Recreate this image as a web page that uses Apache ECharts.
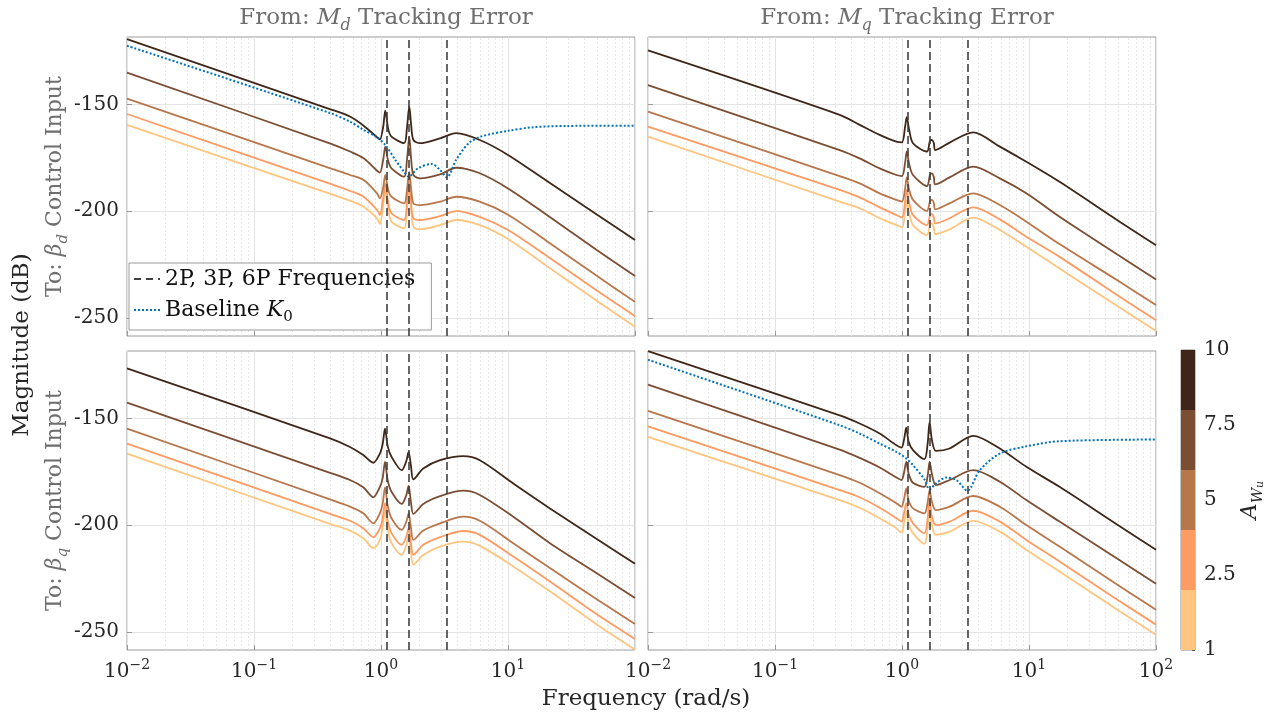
<!DOCTYPE html>
<html>
<head>
<meta charset="utf-8">
<script src="https://cdn.jsdelivr.net/npm/echarts@6/dist/echarts.min.js"></script>
<style>html,body{margin:0;background:#fff}#main{width:1284px;height:720px}</style>
</head>
<body>
<div id="main"></div>
<script>
// weighting amplitudes A_Wu and their colours (dark = 10 ... light = 1)
var levels = [10, 7.5, 5, 2.5, 1];
var levelColors = ['#3e2718', '#7b4e33', '#b8764b', '#fe9b62', '#fec57f'];
var cbLabels = ['1', '2.5', '5', '7.5', '10'];
var xTickExp = ['\u22122', '\u22121', '0', '1', '2'];
var yTicks = [-250, -200, -150];
// 2P, 3P, 6P frequencies (rad/s)
var harmonics = [1.1, 1.65, 3.3];

// top-left: from Md to beta_d
var freqTL = [0.01, 0.4, 0.57, 0.73, 0.93, 0.98, 1.04, 1.08, 1.14, 1.21, 1.52, 1.6, 1.67, 1.73, 1.8, 2.03, 2.92, 3.9, 6.0, 10, 20, 50, 100];
var tl10 = [-119.3, -152.2, -155.6, -159.9, -165.3, -166.3, -160.5, -152.8, -161.5, -165.0, -168.1, -161.0, -150.9, -160.0, -166.6, -168.1, -165.8, -163.4, -166.6, -173.6, -185.6, -201.5, -213.5];
var tl75 = [-135.0, -168.3, -172.0, -175.2, -181.0, -181.9, -176.0, -169.7, -176.5, -179.9, -183.8, -176.0, -165.3, -176.0, -183.0, -184.6, -182.7, -179.6, -182.2, -189.3, -201.5, -218.2, -230.4];
var tl5 = [-147.2, -179.9, -183.0, -185.4, -191.6, -193.9, -189.0, -183.0, -190.0, -193.2, -196.3, -190.0, -181.5, -190.0, -196.3, -197.1, -195.5, -193.2, -195.5, -201.6, -213.8, -230.3, -242.5];
var tl25 = [-154.4, -187.2, -190.5, -193.2, -199.4, -201.8, -194.0, -186.9, -196.0, -201.0, -204.1, -196.0, -185.4, -197.0, -203.3, -204.1, -202.3, -199.9, -202.6, -208.8, -220.8, -237.2, -249.2];
var tl1 = [-159.5, -191.9, -195.0, -197.9, -203.3, -206.0, -197.0, -190.0, -199.0, -204.9, -208.0, -199.0, -188.5, -199.0, -207.3, -208.4, -206.5, -204.1, -206.5, -213.0, -225.5, -242.0, -254.2];
var freqTLBase = [0.01, 0.4, 0.57, 0.73, 0.93, 1.08, 1.3, 1.52, 1.65, 1.95, 2.5, 2.92, 3.3, 3.9, 4.9, 6.1, 10, 16, 29, 100];
var tlBase = [-122.4, -154.0, -158.0, -161.9, -165.3, -168.9, -176.0, -181.5, -183.8, -179.9, -177.8, -180.7, -184.1, -176.0, -168.1, -165.0, -162.3, -160.6, -160.0, -159.9];

// top-right: from Mq to beta_d
var freqTR = [0.01, 0.323, 0.464, 0.667, 0.904, 1.0, 1.06, 1.09, 1.14, 1.22, 1.57, 1.66, 1.72, 1.78, 1.83, 2.37, 3.63, 5.89, 9.53, 17.4, 50, 100];
var tr10 = [-124.6, -154.8, -159.5, -164.2, -167.4, -167.7, -160.0, -155.9, -162.0, -168.1, -172.0, -167.0, -166.6, -168.0, -171.3, -167.8, -163.0, -169.7, -176.8, -186.2, -204.3, -215.9];
var tr75 = [-140.9, -171.3, -175.2, -179.9, -183.0, -183.5, -177.0, -172.0, -178.0, -183.0, -188.2, -183.0, -182.2, -184.0, -187.4, -184.1, -179.1, -184.6, -191.6, -202.6, -220.4, -232.0];
var tr5 = [-153.3, -183.5, -186.9, -191.6, -194.7, -195.5, -189.0, -184.1, -190.0, -194.7, -199.8, -195.5, -194.7, -196.0, -199.1, -196.3, -191.6, -197.1, -204.9, -215.4, -232.5, -244.0];
var tr25 = [-160.3, -190.0, -193.5, -198.2, -201.8, -203.0, -195.0, -190.0, -196.0, -201.8, -206.5, -202.0, -201.3, -203.0, -205.7, -203.3, -198.2, -203.8, -212.0, -221.4, -239.5, -251.1];
var tr1 = [-165.0, -195.5, -198.6, -203.3, -206.5, -207.6, -200.0, -194.7, -201.0, -206.5, -211.2, -206.5, -205.7, -207.5, -210.7, -208.5, -203.0, -208.8, -216.7, -226.8, -244.6, -256.1];

// bottom-left: from Md to beta_q
var freqBL = [0.01, 0.397, 0.57, 0.725, 0.87, 0.98, 1.03, 1.075, 1.13, 1.21, 1.455, 1.58, 1.65, 1.72, 1.8, 2.15, 2.92, 4.45, 6.0, 11.0, 21.4, 50, 100];
var bl10 = [-126.4, -159.3, -163.3, -167.1, -170.7, -166.4, -162.0, -154.7, -163.0, -167.9, -174.2, -170.0, -165.6, -172.0, -178.5, -173.4, -169.5, -167.6, -169.5, -180.4, -192.1, -206.5, -218.1];
var bl75 = [-142.5, -175.4, -178.8, -182.2, -186.9, -182.0, -178.0, -170.3, -179.0, -184.3, -190.0, -186.0, -181.6, -189.0, -194.7, -190.0, -186.3, -183.8, -185.8, -196.0, -208.4, -222.5, -234.1];
var bl5 = [-154.7, -187.9, -191.3, -194.4, -199.1, -194.4, -190.0, -182.2, -191.0, -196.7, -202.2, -198.5, -194.4, -201.0, -206.9, -202.5, -199.1, -196.0, -197.9, -208.4, -220.1, -234.7, -246.3];
var bl25 = [-161.7, -194.7, -197.9, -201.4, -205.6, -201.4, -197.0, -189.7, -198.0, -203.7, -209.2, -205.5, -201.4, -208.0, -213.9, -209.2, -205.6, -202.7, -204.5, -214.7, -226.4, -241.7, -253.3];
var bl1 = [-166.4, -199.4, -202.5, -206.1, -210.7, -206.9, -201.0, -192.9, -202.0, -208.4, -213.9, -209.5, -205.3, -212.5, -218.5, -213.9, -210.0, -207.7, -209.7, -219.3, -231.0, -246.5, -258.3];

// bottom-right: from Mq to beta_q
var freqBR = [0.01, 0.323, 0.464, 0.667, 0.904, 0.99, 1.04, 1.08, 1.13, 1.22, 1.5, 1.59, 1.65, 1.72, 1.85, 2.37, 3.63, 5.89, 9.53, 17.4, 50, 100];
var br10 = [-118.4, -148.5, -152.3, -157.0, -162.5, -163.6, -159.5, -154.2, -161.0, -164.8, -169.0, -162.0, -151.6, -160.0, -165.1, -164.0, -158.1, -164.0, -172.6, -182.0, -199.9, -211.5];
var br75 = [-134.1, -164.5, -168.4, -172.9, -177.6, -178.8, -175.0, -170.3, -176.0, -180.1, -182.0, -177.0, -170.3, -176.0, -181.2, -178.8, -174.2, -179.6, -188.2, -198.3, -215.8, -227.4];
var br5 = [-146.4, -176.5, -180.1, -185.0, -189.7, -191.3, -187.5, -182.7, -188.5, -192.1, -194.4, -189.5, -183.5, -189.0, -192.9, -191.3, -186.3, -191.3, -199.9, -210.0, -228.0, -239.6];
var br25 = [-153.6, -183.5, -186.9, -191.8, -196.7, -198.3, -194.0, -189.7, -195.0, -199.1, -203.7, -197.0, -188.2, -196.0, -199.9, -198.3, -193.2, -198.3, -206.9, -217.0, -235.0, -246.6];
var br1 = [-158.6, -188.2, -191.8, -196.7, -201.4, -203.5, -198.5, -193.6, -199.5, -203.7, -208.7, -201.0, -192.9, -200.0, -204.5, -203.0, -198.0, -203.0, -211.5, -221.7, -239.7, -251.3];
var freqBRBase = [0.01, 0.323, 0.464, 0.667, 0.904, 1.08, 1.22, 1.5, 1.65, 1.85, 2.24, 2.68, 3.27, 4.09, 5.89, 9.53, 17.4, 100];
var brBase = [-122.4, -153.1, -157.0, -161.7, -165.6, -168.7, -171.8, -178.5, -183.2, -180.4, -177.6, -178.8, -183.8, -174.2, -166.4, -163.0, -160.6, -159.8];

var FONT = 'DejaVu Serif';
var GRAY = '#6e6e6e';
var INK = '#262626';

function rich(size, color) {
    var sub = Math.round(size * 0.68);
    var base = { fontFamily: FONT, fontWeight: 'normal', color: color };
    return {
        n: Object.assign({ fontSize: size, lineHeight: size + 8 }, base),
        i: Object.assign({ fontSize: size, lineHeight: size + 8, fontStyle: 'italic' }, base),
        s: Object.assign({ fontSize: sub, lineHeight: sub, fontStyle: 'italic', verticalAlign: 'bottom' }, base),
        sn: Object.assign({ fontSize: sub, lineHeight: sub, verticalAlign: 'bottom' }, base),
        ss: Object.assign({ fontSize: Math.round(sub * 0.75), lineHeight: Math.round(sub * 0.6), fontStyle: 'italic', verticalAlign: 'bottom' }, base)
    };
}

function pairs(f, m) {
    return f.map(function (x, k) { return [x, m[k]]; });
}

var minorX = [];
[0.01, 0.1, 1, 10].forEach(function (d) {
    for (var m = 2; m <= 9; m++) minorX.push(+(m * d).toPrecision(3));
});

var panels = [
    { left: 127, top: 37, f: freqTL, mags: [tl10, tl75, tl5, tl25, tl1], fBase: freqTLBase, base: tlBase, xLab: false, yLab: true,
      rowName: '{n|To: }{i|\u03b2}{s|d}{n| Control Input}' },
    { left: 648, top: 37, f: freqTR, mags: [tr10, tr75, tr5, tr25, tr1], xLab: false, yLab: false },
    { left: 127, top: 351, f: freqBL, mags: [bl10, bl75, bl5, bl25, bl1], xLab: true, yLab: true, hideLast: true,
      rowName: '{n|To: }{i|\u03b2}{s|q}{n| Control Input}' },
    { left: 648, top: 351, f: freqBR, mags: [br10, br75, br5, br25, br1], fBase: freqBRBase, base: brBase, xLab: true, yLab: false }
];

var grids = [], xAxes = [], yAxes = [], series = [];

panels.forEach(function (p, g) {
    grids.push({ left: p.left, top: p.top, width: 508, height: 299, show: true,
        borderColor: '#9a9a9a', borderWidth: 1, backgroundColor: '#fff' });
    xAxes.push({
        type: 'log', logBase: 10, min: 0.01, max: 100, gridIndex: g,
        axisLine: { show: false },
        axisTick: { show: true, inside: true, length: 5, lineStyle: { color: '#9a9a9a' } },
        splitLine: { show: true, lineStyle: { color: '#e4e4e4', width: 1 } },
        axisLabel: {
            show: p.xLab, margin: 8, showMaxLabel: !p.hideLast,
            formatter: function (v) {
                return '{b|10}{e|' + xTickExp[Math.round(Math.log10(v)) + 2] + '}';
            },
            rich: {
                b: { fontFamily: FONT, fontSize: 20, lineHeight: 28, color: INK },
                e: { fontFamily: FONT, fontSize: 14, lineHeight: 14, color: INK, verticalAlign: 'top' }
            }
        }
    });
    yAxes.push({
        type: 'value', min: -258.5, max: -118.3, gridIndex: g,
        axisLine: { show: false },
        axisTick: { show: true, inside: true, length: 5, customValues: yTicks, lineStyle: { color: '#9a9a9a' } },
        axisLabel: { show: p.yLab, customValues: yTicks, margin: 8, fontFamily: FONT, fontSize: 20, color: INK },
        splitLine: { show: true, lineStyle: { color: '#e4e4e4' } },
        name: p.rowName || '', nameLocation: 'middle', nameRotate: 90, nameGap: 44,
        nameTextStyle: { rich: rich(22, GRAY) }
    });

    // minor log grid
    series.push({
        type: 'line', name: 'minor', xAxisIndex: g, yAxisIndex: g, data: [], z: 1, silent: true,
        markLine: {
            silent: true, symbol: 'none', animation: false, label: { show: false }, z: 1,
            lineStyle: { color: '#e6e6e6', type: [2, 2], width: 1 },
            data: minorX.map(function (x) { return { xAxis: x }; })
        }
    });

    // curves, light first so dark sits on top
    for (var k = levels.length - 1; k >= 0; k--) {
        series.push({
            type: 'line', name: 'A = ' + levels[k], xAxisIndex: g, yAxisIndex: g,
            data: pairs(p.f, p.mags[k]), showSymbol: false, symbol: 'none', smooth: 0.3,
            lineStyle: { color: levelColors[k], width: 1.8 }, itemStyle: { color: levelColors[k] },
            z: 3, animation: false
        });
    }

    if (p.base) {
        series.push({
            type: 'line', name: 'Baseline K0', xAxisIndex: g, yAxisIndex: g,
            data: pairs(p.fBase, p.base), symbol: 'none', smooth: 0.3,
            lineStyle: { color: '#0072bd', width: 2, type: [2, 2] }, itemStyle: { color: '#0072bd' },
            z: 4, animation: false
        });
    }

    // 2P / 3P / 6P markers
    series.push({
        type: 'line', name: '2P, 3P, 6P Frequencies', xAxisIndex: g, yAxisIndex: g, data: [],
        symbol: 'none', z: 5,
        lineStyle: { color: '#404040', width: 1.6, type: [7, 5] }, itemStyle: { color: '#404040' },
        markLine: {
            silent: true, symbol: 'none', animation: false, label: { show: false }, z: 5,
            lineStyle: { color: '#404040', type: [8, 4], width: 1.6 },
            data: harmonics.map(function (x) { return { xAxis: x }; })
        }
    });
});

// colour bar
grids.push({ left: 1181, top: 350, width: 14, height: 300, show: true, borderColor: '#8a8a8a', borderWidth: 1 });
xAxes.push({ type: 'category', gridIndex: 4, data: ['A'], show: false });
yAxes.push({
    type: 'value', gridIndex: 4, min: 0, max: 10, interval: 2.5, position: 'right',
    axisLine: { show: false }, splitLine: { show: false },
    axisTick: { show: true, inside: true, length: 3, lineStyle: { color: '#555' } },
    axisLabel: { margin: 9, fontFamily: FONT, fontSize: 20, color: INK,
        formatter: function (v) { return cbLabels[Math.round(v / 2.5)]; } },
    name: '{i|A}{s|W}{ss|u}', nameLocation: 'middle', nameRotate: 90, nameGap: 40,
    nameTextStyle: { rich: rich(22, INK) }
});
for (var c = levels.length - 1; c >= 0; c--) {
    series.push({
        type: 'bar', name: 'cb' + c, stack: 'cb', xAxisIndex: 4, yAxisIndex: 4, data: [2],
        barWidth: '100%', itemStyle: { color: levelColors[c] }, silent: true, animation: false
    });
}

var chart = echarts.init(document.getElementById('main'), null, { renderer: 'canvas' });
chart.setOption({
    backgroundColor: '#fff',
    animation: false,
    title: [
        { text: '{n|From: }{i|M}{s|d}{n| Tracking Error}', left: 381, top: -2, textAlign: 'center', textStyle: { fontWeight: 'normal', rich: rich(23, GRAY) } },
        { text: '{n|From: }{i|M}{s|q}{n| Tracking Error}', left: 902, top: -2, textAlign: 'center', textStyle: { fontWeight: 'normal', rich: rich(23, GRAY) } },
        { text: 'Frequency (rad/s)', left: 641, top: 683, textAlign: 'center', textStyle: { fontFamily: FONT, fontSize: 23, fontWeight: 'normal', color: INK } }
    ],
    graphic: [{
        type: 'text', x: 22, y: 345, rotation: Math.PI / 2,
        style: { text: 'Magnitude (dB)', fontFamily: FONT, fontSize: 23, fill: INK, align: 'center', verticalAlign: 'middle' }
    }],
    legend: {
        left: 129, top: 263, orient: 'vertical',
        data: ['2P, 3P, 6P Frequencies', 'Baseline K0'],
        backgroundColor: '#fff', borderColor: '#9a9a9a', borderWidth: 1, borderRadius: 0,
        padding: [5, 16, 5, 4], itemGap: 9, itemWidth: 26, itemHeight: 14,
        selectedMode: false,
        itemStyle: { opacity: 0 },
        formatter: function (name) {
            return name === 'Baseline K0' ? '{n|Baseline }{i|K}{sn|0}' : '{n|' + name + '}';
        },
        textStyle: { rich: rich(22, '#111') }
    },
    grid: grids,
    xAxis: xAxes,
    yAxis: yAxes,
    series: series
});
</script>
</body>
</html>
